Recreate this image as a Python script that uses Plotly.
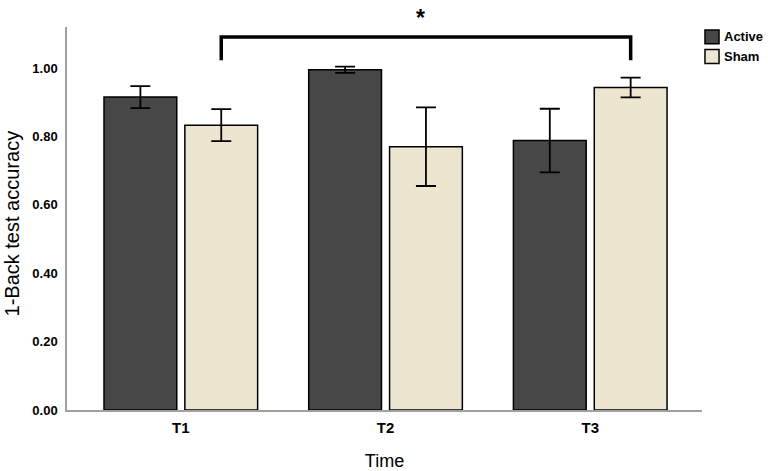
import plotly.graph_objects as go

categories = ["T1", "T2", "T3"]
series_names = ["Active", "Sham"]
series_colors = ["#474747", "#ECE5D0"]
active_mean = [0.915, 0.995, 0.788]
active_err = [0.032, 0.009, 0.093]
sham_mean = [0.833, 0.770, 0.943]
sham_err = [0.047, 0.115, 0.029]
y_ticks = [0.0, 0.2, 0.4, 0.6, 0.8, 1.0]

FONT = "Liberation Sans, Arial, sans-serif"
bargap = 0.21
slot = (1 - bargap) / 2

fig = go.Figure()
for name, color, mean, err in zip(series_names, series_colors,
                                  [active_mean, sham_mean], [active_err, sham_err]):
    fig.add_trace(go.Bar(
        name=name, x=list(range(3)), y=mean,
        marker=dict(color=color, line=dict(color="#000000", width=1.5)),
        error_y=dict(type="data", array=err, color="#000000", thickness=1.8, width=10),
    ))

# significance bracket between T1 Sham and T3 Sham
x_left = 0 + slot / 2
x_right = 2 + slot / 2
y_top = 1.091
y_bot = 1.023
fig.add_shape(type="path", xref="x", yref="y",
              path=f"M {x_left},{y_bot} L {x_left},{y_top} L {x_right},{y_top} L {x_right},{y_bot}",
              line=dict(color="#000000", width=3.5))
fig.add_annotation(x=1.17, y=y_top, xref="x", yref="y", text="<b>*</b>", showarrow=False,
                   yanchor="bottom", yshift=4, font=dict(family=FONT, size=23, color="#000000"))

# legend (drawn in paper coordinates, top right, outside the plot area)
for i, (name, color) in enumerate(zip(series_names, series_colors)):
    y_hi = 0.992 - i * 0.051
    fig.add_shape(type="rect", xref="paper", yref="paper",
                  x0=1.0047, x1=1.0268, y0=y_hi - 0.036, y1=y_hi,
                  fillcolor=color, line=dict(color="#000000", width=1.5))
    fig.add_annotation(x=1.031, y=y_hi - 0.018, xref="paper", yref="paper",
                       text=f"<b>{name}</b>", showarrow=False, xanchor="left", yanchor="middle",
                       font=dict(family=FONT, size=13, color="#000000"))

# y-axis title
fig.add_annotation(x=-0.0866, y=0.487, xref="paper", yref="paper", text="1-Back test accuracy",
                   textangle=-90, showarrow=False, xanchor="center", yanchor="middle",
                   font=dict(family=FONT, size=20, color="#000000"))

fig.update_layout(
    width=768, height=471,
    margin=dict(l=67, r=66, t=27, b=61, autoexpand=False),
    paper_bgcolor="white", plot_bgcolor="white",
    barmode="group", bargap=bargap, bargroupgap=0.1,
    font=dict(family=FONT, color="#000000"),
    showlegend=False,
)
fig.update_xaxes(
    range=[-0.556, 2.546], tickmode="array", tickvals=list(range(3)), ticktext=categories,
    showline=True, linecolor="#A0A0A0", linewidth=1.5, showgrid=False, zeroline=False,
    ticks="", automargin=False, ticklabelstandoff=3,
    tickfont=dict(family=FONT, size=15, color="#000000", weight="bold"),
    title=dict(text="Time", font=dict(family=FONT, size=18, color="#000000"), standoff=21),
)
fig.update_yaxes(
    range=[0, 1.12], tickmode="array", tickvals=y_ticks,
    ticktext=[f"{v:.2f}" for v in y_ticks],
    showline=True, linecolor="#A0A0A0", linewidth=1.5, showgrid=False, zeroline=False,
    ticks="", ticklabelstandoff=5, automargin=False,
    tickfont=dict(family=FONT, size=13, color="#000000", weight="bold"),
)

# remove the browser's default 8px body margin so the figure fills the window exactly
fig.write_html("out.html",
               config={"displayModeBar": False},
               post_script="document.body.style.margin='0';document.body.style.overflow='hidden';")
